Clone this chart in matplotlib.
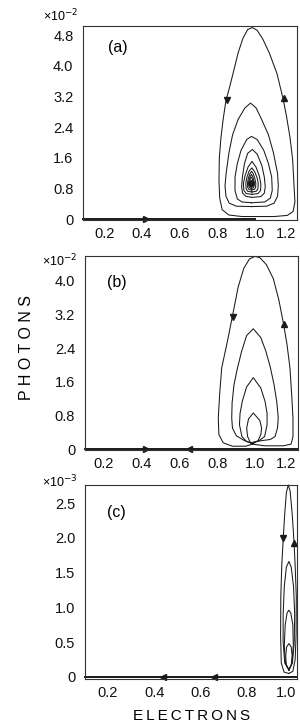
import matplotlib
matplotlib.use("Agg")
import matplotlib.pyplot as plt
from matplotlib.transforms import ScaledTranslation

# ---------------- data ----------------
# panel (a): closed orbits (electrons, photons x 1e-2)
a1_x = [1.00, 1.10, 1.17, 1.200, 1.210, 1.205, 1.198, 1.184, 1.165, 1.146, 1.115, 1.075, 1.040, 1.010, 0.985,
        0.960, 0.935, 0.910, 0.885, 0.862, 0.845, 0.830, 0.818, 0.810, 0.808, 0.812, 0.825, 0.86, 0.93, 1.00]
a1_y = [0.07, 0.07, 0.10, 0.20, 0.45, 0.90, 1.56, 2.13, 2.70, 3.17, 3.80, 4.33, 4.70, 4.93, 5.00,
        4.95, 4.72, 4.35, 3.85, 3.40, 3.10, 2.60, 2.10, 1.60, 1.00, 0.55, 0.25, 0.11, 0.07, 0.07]
a2_x = [0.98, 1.06, 1.10, 1.118, 1.122, 1.118, 1.096, 1.070, 1.034, 1.005, 0.975,
        0.945, 0.909, 0.880, 0.861, 0.846, 0.840, 0.845, 0.862, 0.90, 0.98]
a2_y = [0.33, 0.34, 0.42, 0.60, 0.87, 1.20, 1.74, 2.20, 2.60, 2.90, 3.03,
        2.90, 2.60, 2.20, 1.74, 1.20, 0.87, 0.60, 0.42, 0.34, 0.33]
a3_x = [0.98, 1.05, 1.08, 1.09, 1.087, 1.07, 1.045, 1.01, 0.98, 0.955, 0.925, 0.905, 0.893, 0.893, 0.905, 0.93, 0.98]
a3_y = [0.43, 0.45, 0.55, 0.75, 1.10, 1.45, 1.80, 2.08, 2.16, 2.08, 1.80, 1.45, 1.10, 0.75, 0.53, 0.45, 0.43]
a4_x = [0.98, 1.03, 1.048, 1.053, 1.048, 1.035, 1.01, 0.985, 0.96, 0.943, 0.932, 0.928, 0.933, 0.950, 0.98]
a4_y = [0.57, 0.59, 0.68, 0.85, 1.10, 1.40, 1.70, 1.82, 1.72, 1.45, 1.10, 0.85, 0.68, 0.60, 0.57]
a5_x = [0.983, 1.015, 1.028, 1.030, 1.022, 1.005, 0.983, 0.962, 0.945, 0.937, 0.940, 0.952, 0.983]
a5_y = [0.65, 0.67, 0.75, 0.92, 1.12, 1.35, 1.51, 1.36, 1.12, 0.92, 0.75, 0.67, 0.65]
a6_x = [0.982, 1.005, 1.014, 1.016, 1.010, 0.997, 0.982, 0.967, 0.955, 0.950, 0.952, 0.960, 0.982]
a6_y = [0.71, 0.73, 0.79, 0.93, 1.08, 1.24, 1.34, 1.25, 1.08, 0.93, 0.79, 0.73, 0.71]
a7_x = [0.981, 0.996, 1.002, 1.003, 0.998, 0.990, 0.981, 0.971, 0.963, 0.959, 0.960, 0.966, 0.981]
a7_y = [0.76, 0.78, 0.83, 0.94, 1.06, 1.18, 1.25, 1.18, 1.06, 0.94, 0.83, 0.78, 0.76]
a8_x = [0.980, 0.990, 0.994, 0.995, 0.991, 0.986, 0.980, 0.974, 0.968, 0.965, 0.966, 0.971, 0.980]
a8_y = [0.80, 0.82, 0.86, 0.95, 1.04, 1.12, 1.17, 1.12, 1.04, 0.95, 0.86, 0.82, 0.80]
a9_x = [0.979, 0.986, 0.989, 0.990, 0.987, 0.983, 0.979, 0.975, 0.971, 0.969, 0.970, 0.973, 0.979]
a9_y = [0.84, 0.85, 0.88, 0.95, 1.01, 1.07, 1.10, 1.07, 1.01, 0.95, 0.88, 0.85, 0.84]
a_center = (0.978, 0.94)

# panel (b)
b1_x = [0.985, 1.05, 1.15, 1.19, 1.20, 1.20, 1.193, 1.184, 1.168, 1.149, 1.125, 1.096, 1.060, 1.025, 0.999,
        0.970, 0.940, 0.910, 0.881, 0.855, 0.823, 0.812, 0.805, 0.808, 0.831, 0.88, 0.95, 0.985]
b1_y = [0.12, 0.08, 0.08, 0.12, 0.30, 0.74, 1.30, 1.93, 2.50, 3.00, 3.55, 4.05, 4.38, 4.55, 4.58,
        4.52, 4.30, 3.85, 3.19, 2.60, 1.93, 1.30, 0.74, 0.35, 0.15, 0.07, 0.07, 0.12]
b2_x = [0.975, 1.03, 1.08, 1.105, 1.118, 1.122, 1.115, 1.100, 1.080, 1.057, 1.030, 0.990,
        0.955, 0.928, 0.905, 0.888, 0.878, 0.876, 0.880, 0.900, 0.937, 0.975]
b2_y = [0.15, 0.20, 0.23, 0.30, 0.50, 0.74, 1.10, 1.53, 1.95, 2.32, 2.65, 2.86,
        2.70, 2.32, 1.90, 1.53, 1.10, 0.74, 0.50, 0.32, 0.22, 0.15]
b3_x = [0.98, 1.02, 1.05, 1.063, 1.063, 1.052, 1.030, 0.990, 0.955, 0.932, 0.920, 0.917, 0.930, 0.955, 0.98]
b3_y = [0.15, 0.20, 0.30, 0.58, 0.85, 1.14, 1.45, 1.70, 1.48, 1.14, 0.85, 0.58, 0.30, 0.18, 0.15]
b4_x = [0.985, 1.015, 1.030, 1.034, 1.025, 0.990, 0.965, 0.955, 0.960, 0.972, 0.985]
b4_y = [0.12, 0.20, 0.35, 0.50, 0.68, 0.86, 0.72, 0.50, 0.30, 0.18, 0.12]

# panel (c) (photons x 1e-3)
c1_x = [0.982, 1.000, 1.010, 1.014, 1.015, 1.010, 1.005, 0.997, 0.988, 0.980,
        0.972, 0.965, 0.959, 0.952, 0.948, 0.947, 0.950, 0.962, 0.982]
c1_y = [0.05, 0.08, 0.25, 0.60, 1.15, 1.60, 1.95, 2.35, 2.68, 2.76,
        2.65, 2.35, 2.02, 1.60, 1.15, 0.60, 0.20, 0.07, 0.05]
c2_x = [0.983, 0.998, 1.006, 1.008, 1.003, 0.993, 0.983, 0.972, 0.963, 0.958, 0.958, 0.965, 0.983]
c2_y = [0.10, 0.20, 0.50, 0.90, 1.30, 1.58, 1.66, 1.58, 1.30, 0.90, 0.50, 0.20, 0.10]
c3_x = [0.983, 0.996, 1.002, 1.000, 0.991, 0.983, 0.975, 0.967, 0.963, 0.968, 0.983]
c3_y = [0.10, 0.20, 0.45, 0.75, 0.92, 0.96, 0.92, 0.75, 0.45, 0.20, 0.10]
c4_x = [0.983, 0.993, 0.997, 0.993, 0.983, 0.973, 0.969, 0.972, 0.983]
c4_y = [0.10, 0.17, 0.30, 0.43, 0.48, 0.43, 0.30, 0.17, 0.10]

# direction arrows: (x, y, marker)
a_arrows = [(0.853, 3.1, 'v'), (1.150, 3.15, '^'), (0.42, 0.0, '>')]
b_arrows = [(0.883, 3.15, 'v'), (1.150, 2.98, '^'), (0.42, 0.0, '>'), (0.65, 0.0, '<')]
c_arrows = [(0.959, 2.0, 'v'), (1.006, 1.92, '^'), (0.44, 0.0, '<'), (0.66, 0.0, '<')]

# ticks
ab_xticks = [0.2, 0.4, 0.6, 0.8, 1.0, 1.2]
ab_xlabels = ["0.2", "0.4", "0.6", "0.8", "1.0", "1.2"]
c_xticks = [0.2, 0.4, 0.6, 0.8, 1.0]
c_xlabels = ["0.2", "0.4", "0.6", "0.8", "1.0"]
a_yticks = [0, 0.8, 1.6, 2.4, 3.2, 4.0, 4.8]
a_ylabels = ["0", "0.8", "1.6", "2.4", "3.2", "4.0", "4.8"]
b_yticks = [0, 0.8, 1.6, 2.4, 3.2, 4.0]
b_ylabels = ["0", "0.8", "1.6", "2.4", "3.2", "4.0"]
c_yticks = [0, 0.5, 1.0, 1.5, 2.0, 2.5]
c_ylabels = ["0", "0.5", "1.0", "1.5", "2.0", "2.5"]

# ---------------- figure ----------------
plt.rcParams['font.family'] = ['Liberation Sans', 'DejaVu Sans']
fig = plt.figure(figsize=(3.0, 7.27), dpi=100)

LC = '#1a1a1a'
LW = 0.75

def setup(ax, xlim, ylim, xt, xl, yt, yl):
    ax.set_xlim(*xlim)
    ax.set_ylim(*ylim)
    ax.set_xticks(xt)
    ax.set_xticklabels(xl)
    ax.set_yticks(yt)
    ax.set_yticklabels(yl)
    ax.tick_params(length=0, labelsize=10.5, colors='#111111')
    ax.tick_params(axis='x', pad=5)
    ax.tick_params(axis='y', pad=7)
    for s in ax.spines.values():
        s.set_linewidth(0.8)
        s.set_color('#333333')
    # keep the right-most x label inside the canvas
    lab = ax.get_xticklabels()[-1]
    lab.set_transform(lab.get_transform() + ScaledTranslation(-5 / 72, 0, fig.dpi_scale_trans))

def draw(ax, curves, arrows, axis_to):
    for xs, ys in curves:
        ax.plot(xs, ys, color=LC, lw=LW, clip_on=False)
    ax.plot([ax.get_xlim()[0], axis_to], [0, 0], color=LC, lw=1.4, clip_on=False)
    for x, y, m in arrows:
        ax.plot([x], [y], marker=m, ms=4.5, color=LC, mec=LC, clip_on=False)

# (a)
axa = fig.add_axes([0.277, 0.6974, 0.713, 0.2668])
setup(axa, (0.089, 1.221), (-0.02, 5.04), ab_xticks, ab_xlabels, a_yticks, a_ylabels)
draw(axa, [(a1_x, a1_y), (a2_x, a2_y), (a3_x, a3_y), (a4_x, a4_y), (a5_x, a5_y),
           (a6_x, a6_y), (a7_x, a7_y), (a8_x, a8_y), (a9_x, a9_y)], a_arrows, 1.0)
axa.plot([a_center[0]], [a_center[1]], 'o', ms=4, color=LC)
axa.text(0.115, 0.89, "(a)", transform=axa.transAxes, fontsize=11.5, va='center', ha='left')
fig.text(61 / 300, 1 - 16 / 727, "×10$^{-2}$", fontsize=9, ha='center', va='center')

# (b)
axb = fig.add_axes([0.283, 0.381, 0.710, 0.2669])
setup(axb, (0.0995, 1.226), (-0.02, 4.59), ab_xticks, ab_xlabels, b_yticks, b_ylabels)
draw(axb, [(b1_x, b1_y), (b2_x, b2_y), (b3_x, b3_y), (b4_x, b4_y)], b_arrows, 1.226)
axb.text(0.105, 0.865, "(b)", transform=axb.transAxes, fontsize=11.5, va='center', ha='left')
fig.text(60 / 300, 1 - 261 / 727, "×10$^{-2}$", fontsize=9, ha='center', va='center')

# (c)
axc = fig.add_axes([0.283, 0.066, 0.707, 0.2669])
setup(axc, (0.1005, 1.018), (-0.03, 2.76), c_xticks, c_xlabels, c_yticks, c_ylabels)
draw(axc, [(c1_x, c1_y), (c2_x, c2_y), (c3_x, c3_y), (c4_x, c4_y)], c_arrows, 1.018)
axc.text(0.105, 0.86, "(c)", transform=axc.transAxes, fontsize=11.5, va='center', ha='left')
fig.text(60 / 300, 1 - 482 / 727, "×10$^{-3}$", fontsize=9, ha='center', va='center')

# axis titles
fig.text(27 / 300, 1 - 348 / 727, "P H O T O N S", rotation=90, fontsize=11.5,
         ha='center', va='center')
fig.text(192 / 300, 1 - 716 / 727, "E\u2009L\u2009E\u2009C\u2009T\u2009R\u2009O\u2009N\u2009S",
         fontsize=11, ha='center', va='center')

fig.savefig("out.png", dpi=100)
